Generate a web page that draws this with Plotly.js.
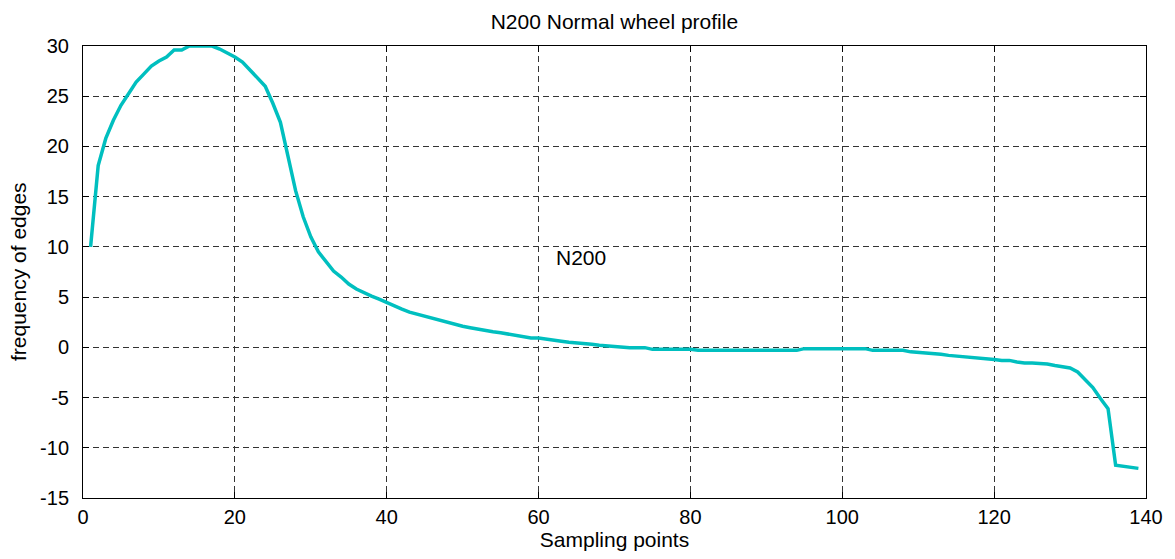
<!DOCTYPE html>
<html>
<head>
<meta charset="utf-8">
<script src="https://cdn.plot.ly/plotly-3.0.1.min.js"></script>
<style>
  html, body { margin: 0; padding: 0; background: #ffffff; }
  #chart { width: 1175px; height: 559px; }
</style>
</head>
<body>
<div id="chart"></div>
<script>
// Edge-frequency profile of the N200 wheel, one value per sampling point (1..139)
const samplePoints = Array.from({ length: 139 }, (_, i) => i + 1);

const edgeFrequency = [
  10.0, 18.1, 20.8, 22.6, 24.1, 25.3, 26.4, 27.2, 28.0, 28.5,
  28.9, 29.6, 29.6, 30.0, 30.0, 30.0, 30.0, 29.7, 29.3, 28.9,
  28.4, 27.6, 26.8, 26.0, 24.3, 22.4, 19.0, 15.6, 13.0, 11.0,
  9.5, 8.5, 7.6, 7.0, 6.3, 5.8, 5.4, 5.1, 4.8, 4.45,
  4.1, 3.8, 3.5, 3.3, 3.1, 2.85, 2.65, 2.5, 2.25, 2.1,
  1.95, 1.8, 1.7, 1.55, 1.45, 1.3, 1.15, 1.0, 0.93, 0.93,
  0.8, 0.65, 0.6, 0.5, 0.45, 0.38, 0.3, 0.2, 0.13, 0.05,
  -0.03, -0.03, -0.03, -0.03, -0.2, -0.2, -0.2, -0.2, -0.2, -0.2,
  -0.3, -0.3, -0.3, -0.3, -0.3, -0.3, -0.3, -0.3, -0.3, -0.3,
  -0.3, -0.3, -0.3, -0.3, -0.13, -0.13, -0.13, -0.13, -0.13, -0.13,
  -0.13, -0.13, -0.13, -0.3, -0.3, -0.3, -0.3, -0.3, -0.45, -0.5,
  -0.55, -0.65, -0.7, -0.8, -0.86, -0.9, -1.0, -1.05, -1.13, -1.2,
  -1.3, -1.3, -1.45, -1.56, -1.56, -1.6, -1.65, -1.8, -1.9, -2.05,
  -2.45, -3.25, -4.0, -5.1, -6.1, -11.74, -11.87, -11.97, -12.05
];

const xTicks = [0, 20, 40, 60, 80, 100, 120, 140];
const yTicks = [-15, -10, -5, 0, 5, 10, 15, 20, 25, 30];

const chartTitle = 'N200 Normal wheel profile';
const xLabel = 'Sampling points';
const yLabel = 'frequency of edges';
const curveLabel = 'N200';
const labelPos = { x: 62, y: 8.9 };

const FONT = 'Liberation Sans, Arial, sans-serif';
const W = 1175, H = 559;
const M = { l: 83, r: 29, t: 46, b: 61 };

const trace = {
  x: samplePoints,
  y: edgeFrequency,
  type: 'scatter',
  mode: 'lines',
  name: curveLabel,
  line: { color: '#00bfbf', width: 3.5 },
  hoverinfo: 'x+y'
};

const axisCommon = {
  showline: true,
  linecolor: '#000000',
  linewidth: 1,
  mirror: 'ticks',
  ticks: 'inside',
  ticklen: 6,
  tickcolor: '#000000',
  showgrid: true,
  gridcolor: '#333333',
  gridwidth: 1,
  griddash: '6px,4px',
  zeroline: false,
  tickfont: { family: FONT, size: 20, color: '#000000' }
};

const layout = {
  width: W,
  height: H,
  paper_bgcolor: '#ffffff',
  plot_bgcolor: '#ffffff',
  margin: M,
  showlegend: false,
  font: { family: FONT, color: '#000000' },
  title: {
    text: chartTitle,
    font: { family: FONT, size: 21, color: '#000000' },
    x: 0.5229,
    xanchor: 'center',
    y: 1 - 22 / H,
    yanchor: 'middle'
  },
  xaxis: Object.assign({}, axisCommon, {
    range: [0, 140],
    tickvals: xTicks,
    ticktext: xTicks.map(String),
    ticklabelstandoff: 1,
    title: { text: xLabel, font: { family: FONT, size: 21, color: '#000000' }, standoff: 1 }
  }),
  yaxis: Object.assign({}, axisCommon, {
    range: [-15, 30],
    tickvals: yTicks,
    ticktext: yTicks.map(String),
    ticklabelstandoff: 9
  }),
  annotations: [
    {
      // curve label inside the plot
      x: labelPos.x,
      y: labelPos.y,
      xref: 'x',
      yref: 'y',
      text: curveLabel,
      showarrow: false,
      xanchor: 'left',
      yanchor: 'middle',
      font: { family: FONT, size: 21, color: '#000000' }
    },
    {
      // vertical y-axis title, placed close to the left edge
      x: (18 - M.l) / (W - M.l - M.r),
      y: 0.5,
      xref: 'paper',
      yref: 'paper',
      text: yLabel,
      textangle: -90,
      showarrow: false,
      xanchor: 'center',
      yanchor: 'middle',
      font: { family: FONT, size: 21, color: '#000000' }
    }
  ]
};

Plotly.newPlot('chart', [trace], layout, { staticPlot: true, displayModeBar: false });
</script>
</body>
</html>
